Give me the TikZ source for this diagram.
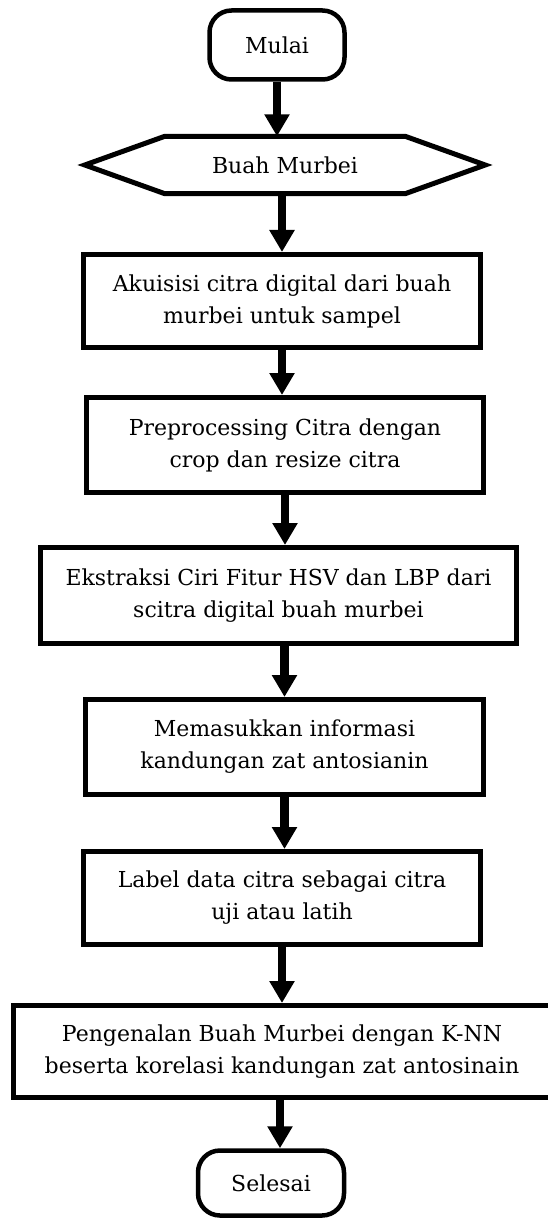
\documentclass[tikz,border=0pt]{standalone}
\usepackage{fontspec}
\setmainfont{DejaVu Serif}
\usetikzlibrary{arrows.meta}

\begin{document}
\begin{tikzpicture}[x=1pt, y=-1pt, font=\fontsize{22}{32}\selectfont,
  term/.style={draw, line width=4.5pt, rounded corners=22pt, align=center, inner sep=0pt},
  proc/.style={draw, line width=5pt, align=center, inner sep=0pt},
  arr/.style={line width=8.5pt, -{Triangle[length=22pt, width=24pt]}}]
  \useasboundingbox (0,0) rectangle (548,1222);
  \node[term, minimum width=135pt, minimum height=69pt] (mulai) at (277,45) {Mulai};
  % input shape drawn round a plain node
  \node[minimum width=240pt, minimum height=57pt, inner sep=0pt] (buah) at (285,165) {Buah Murbei};
  \draw[line width=5pt] (buah.north west) -- (buah.north east) -- ([xshift=80pt]buah.east)
       -- (buah.south east) -- (buah.south west) -- ([xshift=-80pt]buah.west) -- cycle;
  \node[proc, minimum width=397pt, minimum height=93pt] (akuisisi) at (282,301)
       {Akuisisi citra digital dari buah\\ murbei untuk sampel};
  \node[proc, minimum width=397pt, minimum height=95pt] (prepro) at (285,445)
       {Preprocessing Citra dengan\\ crop dan resize citra};
  \node[proc, minimum width=476pt, minimum height=96pt] (ekstraksi) at (278.5,595.5)
       {Ekstraksi Ciri Fitur HSV dan LBP dari\\ scitra digital buah murbei};
  \node[proc, minimum width=398pt, minimum height=95pt] (info) at (284.5,747)
       {Memasukkan informasi\\ kandungan zat antosianin};
  \node[proc, minimum width=397pt, minimum height=93pt] (label) at (282,898)
       {Label data citra sebagai citra\\ uji atau latih};
  \node[proc, minimum width=538pt, minimum height=92pt] (knn) at (282,1051.5)
       {Pengenalan Buah Murbei dengan K-NN\\ beserta korelasi kandungan zat antosinain};
  \node[term, minimum width=146pt, minimum height=65pt] (selesai) at (271,1183) {Selesai};
  % arrows
  \draw[arr] (mulai) -- (mulai |- buah.north);
  \draw[arr] (buah.south -| akuisisi) -- (akuisisi);
  \draw[arr] (akuisisi) -- (akuisisi |- prepro.north);
  \draw[arr] (prepro) -- (prepro |- ekstraksi.north);
  \draw[arr] (ekstraksi.south -| info) -- (info);
  \draw[arr] (info) -- (info |- label.north);
  \draw[arr] (label) -- (label |- knn.north);
  \draw[arr] (knn.south -| 280,0) -- (280,0 |- selesai.north);
\end{tikzpicture}
\end{document}
